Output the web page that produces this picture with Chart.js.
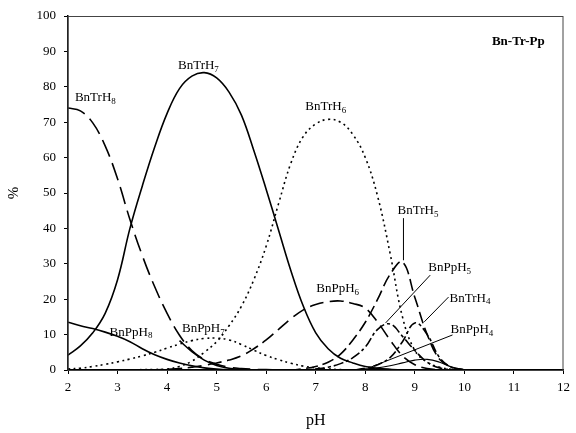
<!DOCTYPE html>
<html>
<head>
<meta charset="utf-8">
<script src="https://cdn.jsdelivr.net/npm/chart.js@4.4.1/dist/chart.umd.min.js"></script>
<style>
  html, body { margin: 0; padding: 0; background: #fff; }
  #wrap { width: 576px; height: 433px; }
</style>
</head>
<body>
<div id="wrap"><canvas id="chart"></canvas></div>
<script>
// pH grid shared by every species curve
const ph = [2, 2.25, 2.5, 2.75, 3, 3.25, 3.5, 3.75, 4, 4.25, 4.5, 4.75, 5, 5.25, 5.5, 5.75, 6,
  6.25, 6.5, 6.75, 7, 7.25, 7.5, 7.75, 8, 8.25, 8.5, 8.75, 9, 9.25, 9.5, 9.75, 10];

// % of each species
const bnTrH8 = [74, 73.2, 69.8, 63.3, 54, 42.5, 32.3, 23.5, 16, 9.8, 5.5, 3, 1.6, 0.8, 0.4, 0.2, 0.1,
  0, 0, 0, 0, 0, 0, 0, 0, 0, 0, 0, 0, 0, 0, 0, 0];
const bnTrH7 = [4.2, 6.8, 10.5, 16, 25.5, 40, 52, 63, 72.5, 79.5, 83, 84, 82.5, 78.5, 72, 62, 51,
  39.5, 28, 18, 10.5, 6, 3.3, 2, 1, 0.5, 0.2, 0, 0, 0, 0, 0, 0];
const bnTrH6 = [0, 0, 0, 0, 0, 0, 0.1, 0.15, 0.3, 1, 2.5, 5, 8, 12.5, 18, 25.5, 35,
  47, 58.5, 66, 69.5, 70.8, 70, 66.5, 60, 49, 33, 15, 5.5, 2.2, 0.8, 0.2, 0];
const bnTrH5 = [0, 0, 0, 0, 0, 0, 0, 0, 0, 0, 0, 0, 0, 0, 0, 0, 0,
  0, 0, 0.4, 1, 2.2, 4.5, 8.5, 13.5, 20, 27, 30.5, 20.5, 10, 3, 0.8, 0];
const bnTrH4 = [0, 0, 0, 0, 0, 0, 0, 0, 0, 0, 0, 0, 0, 0, 0, 0, 0,
  0, 0, 0, 0, 0, 0, 0, 0.5, 1.5, 3.5, 8, 13.3, 10, 3.5, 0.7, 0];
const bnPpH8 = [13.5, 12.5, 11.7, 10.7, 9.5, 8, 6, 4.3, 3, 2, 1.2, 0.6, 0.3, 0.1, 0, 0, 0,
  0, 0, 0, 0, 0, 0, 0, 0, 0, 0, 0, 0, 0, 0, 0, 0];
const bnPpH7 = [0.3, 0.5, 1, 1.6, 2.3, 3.1, 4, 5, 6.2, 7.3, 8.3, 8.9, 9, 8.5, 7.2, 5.6, 4.1,
  2.9, 1.9, 1.1, 0.6, 0.3, 0.1, 0, 0, 0, 0, 0, 0, 0, 0, 0, 0];
const bnPpH6 = [0, 0, 0, 0, 0, 0, 0, 0, 0.2, 0.4, 0.8, 1.3, 2, 2.8, 4, 6, 8.5,
  11.5, 14.5, 17, 18.5, 19.3, 19.5, 18.8, 17.5, 13.5, 8.5, 4, 1.5, 0.4, 0.1, 0, 0];
const bnPpH5 = [0, 0, 0, 0, 0, 0, 0, 0, 0, 0, 0, 0, 0, 0, 0, 0, 0,
  0, 0, 0, 0.3, 0.8, 1.8, 3.5, 6.5, 11.5, 13, 9.5, 5.5, 2.2, 0.6, 0.1, 0];
const bnPpH4 = [0, 0, 0, 0, 0, 0, 0, 0, 0, 0, 0, 0, 0, 0, 0, 0, 0,
  0, 0, 0, 0, 0, 0, 0, 0.3, 0.6, 1.2, 2, 2.8, 3, 2.2, 0.8, 0.1];
// short solid piece coming out from under the BnPpH7 label
const extraSolid = [null, null, null, null, null, null, null, null, null, 8.3, 5.2, 2.8, 1.3, 0.5, 0.2, null, null,
  null, null, null, null, null, null, null, null, null, null, null, null, null, null, null, null];

const yTicks = [0, 10, 20, 30, 40, 50, 60, 70, 80, 90, 100];
const xTicks = [2, 3, 4, 5, 6, 7, 8, 9, 10, 11, 12];

const serif = '"Liberation Serif", "DejaVu Serif", serif';

function pts(values) {
  return ph.map((x, i) => ({ x: x, y: values[i] }));
}

function line(values, dash, width) {
  return {
    data: pts(values),
    borderColor: '#000',
    borderWidth: width || 1.6,
    borderDash: dash || [],
    pointRadius: 0,
    fill: false,
    tension: 0.4,
    spanGaps: false
  };
}

// labels placed in data coordinates: text, subscript, pH, %
const curveLabels = [
  ['BnTrH', '8', 2.14, 77],
  ['BnTrH', '7', 4.22, 86],
  ['BnTrH', '6', 6.79, 74.3],
  ['BnTrH', '5', 8.65, 44.9],
  ['BnPpH', '5', 9.27, 29],
  ['BnTrH', '4', 9.7, 20.3],
  ['BnPpH', '4', 9.72, 11.3],
  ['BnPpH', '6', 7.01, 22.9],
  ['BnPpH', '7', 4.3, 11.6],
  ['BnPpH', '8', 2.84, 10.7]
];
// leader lines: from pH, %, to pH, %
const leaders = [
  [8.77, 42.9, 8.77, 31],
  [9.31, 26.8, 8.41, 13.3],
  [9.68, 20.6, 9.19, 13.6],
  [9.76, 9.9, 8.11, 0.8]
];

const annotate = {
  id: 'annotate',
  afterDatasetsDraw(chart) {
    const ctx = chart.ctx;
    const xs = chart.scales.x, ys = chart.scales.y;
    const a = chart.chartArea;
    ctx.save();
    // frame around plot
    ctx.strokeStyle = '#444';
    ctx.lineWidth = 1;
    ctx.strokeRect(a.left, a.top + 0.5, a.right - a.left - 0.5, a.bottom - a.top);

    ctx.strokeStyle = '#000';
    ctx.lineWidth = 1;
    leaders.forEach(l => {
      ctx.beginPath();
      ctx.moveTo(xs.getPixelForValue(l[0]), ys.getPixelForValue(l[1]));
      ctx.lineTo(xs.getPixelForValue(l[2]), ys.getPixelForValue(l[3]));
      ctx.stroke();
    });

    ctx.fillStyle = '#000';
    ctx.textBaseline = 'middle';
    ctx.textAlign = 'left';
    curveLabels.forEach(lb => {
      const px = xs.getPixelForValue(lb[2]);
      const py = ys.getPixelForValue(lb[3]);
      ctx.font = '13px ' + serif;
      ctx.fillText(lb[0], px, py);
      const w = ctx.measureText(lb[0]).width;
      ctx.font = '9px ' + serif;
      ctx.fillText(lb[1], px + w, py + 4);
    });

    ctx.font = 'bold 13px ' + serif;
    ctx.textAlign = 'right';
    ctx.fillText('Bn-Tr-Pp', xs.getPixelForValue(11.62), ys.getPixelForValue(92.7));
    ctx.restore();
  }
};

document.addEventListener('DOMContentLoaded', function() {
  const ctx = document.getElementById('chart').getContext('2d');
  new Chart(ctx, {
    type: 'line',
    data: {
      datasets: [
        line(bnTrH8, [18, 7]),
        line(bnTrH7, []),
        line(bnTrH6, [2, 3.5]),
        line(bnTrH5, [12, 5]),
        line(bnTrH4, [9, 3, 3, 3]),
        line(bnPpH8, []),
        line(bnPpH7, [2, 3.5]),
        line(bnPpH6, [14, 6]),
        line(bnPpH5, [10, 3, 3, 3]),
        line(bnPpH4, [], 1.2),
        line(extraSolid, [])
      ]
    },
    options: {
      responsive: true,
      maintainAspectRatio: false,
      animation: false,
      layout: { padding: { top: 16, right: 9, left: 0, bottom: 0 } },
      plugins: {
        legend: { display: false },
        tooltip: { enabled: false }
      },
      scales: {
        x: {
          type: 'linear',
          min: 2,
          max: 12,
          afterBuildTicks: s => { s.ticks = xTicks.map(v => ({ value: v })); },
          afterFit: s => { s.height = 63; },
          border: { color: '#000', width: 1.5 },
          grid: { drawOnChartArea: false, drawTicks: true, tickLength: 4, color: '#000' },
          ticks: { color: '#000', padding: 6, font: { family: serif, size: 13 } },
          title: { display: true, text: 'pH', color: '#000', padding: { top: 0, bottom: 3 }, font: { family: serif, size: 16 } }
        },
        y: {
          min: 0,
          max: 100,
          afterBuildTicks: s => { s.ticks = yTicks.map(v => ({ value: v })); },
          afterFit: s => { s.width = 68; },
          border: { color: '#000', width: 1.5 },
          grid: { drawOnChartArea: false, drawTicks: true, tickLength: 4, color: '#000' },
          ticks: { color: '#000', padding: 8, font: { family: serif, size: 13 } },
          title: { display: true, text: '%', color: '#000', padding: { top: 5, bottom: 0 }, font: { family: serif, size: 15 } }
        }
      }
    },
    plugins: [annotate]
  });
});
</script>
</body>
</html>
